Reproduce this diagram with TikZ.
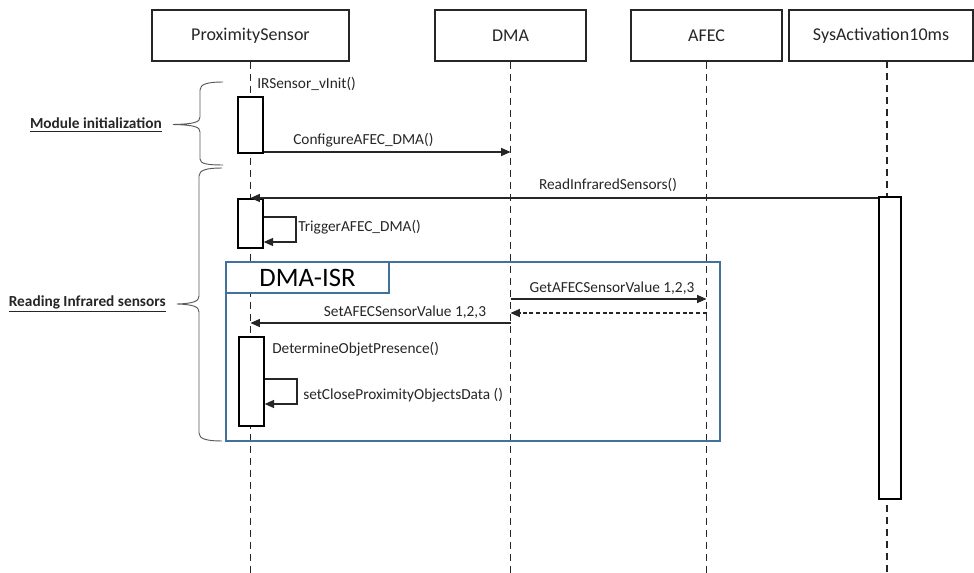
\documentclass[tikz,border=0pt]{standalone}
\usepackage{fontspec}
\setmainfont{Carlito}
\usetikzlibrary{arrows.meta}
\definecolor{frameblue}{RGB}{65,113,156}
\definecolor{ink}{RGB}{38,38,38}
\begin{document}
\begin{tikzpicture}[x=0.75pt,y=-0.75pt,
  hdr/.style={draw=ink, line width=0.9pt, fill=white, font=\fontsize{13.5}{16}\selectfont, text=ink, inner sep=0pt, minimum height=38.25pt},
  life/.style={draw=ink, line width=1pt, dash pattern=on 5.5pt off 3.5pt},
  act/.style={draw=black, line width=1pt, fill=white, inner sep=0pt},
  msg/.style={draw=ink, line width=0.85pt, -{Triangle[length=7pt,width=6pt]}},
  ret/.style={msg, dash pattern=on 3pt off 2pt},
  lbl/.style={font=\fontsize{11.5}{14}\selectfont, text=ink, inner sep=0pt},
  side/.style={font=\bfseries\fontsize{11.5}{14}\selectfont, text=ink, inner sep=0pt, anchor=east},
  bracestyle/.style={draw=gray!70!black, line width=0.7pt},
  frame/.style={draw=frameblue, line width=1pt, inner sep=0pt},
]
\useasboundingbox (0,0) rectangle (974,573);

% headers
\node[hdr, minimum width=147.75pt] (ps)  at (250.5,35.5) {ProximitySensor};
\node[hdr, minimum width=113.25pt] (dma) at (510.5,35.5) {DMA};
\node[hdr, minimum width=113.25pt] (afec) at (706.5,35.5) {AFEC};
\node[hdr, minimum width=138pt]    (sys) at (881,35.5) {SysActivation10ms};

% lifelines
\coordinate (syslife) at (887,61);
\draw[life] (ps.south) -- (ps.south |- 0,573);
\draw[life] (dma.south) -- (dma.south |- 0,573);
\draw[life] (afec.south) -- (afec.south |- 0,573);
\draw[life] (syslife) -- (syslife |- 0,573);

% DMA-ISR frame
\node[frame, minimum width=370.5pt, minimum height=134.25pt] (isr) at (473,351.5) {};
\node[frame, fill=white, minimum width=122.25pt, minimum height=23.25pt,
      font=\fontsize{20}{24}\selectfont, text=black] (isrt) at (307.5,277.5) {DMA-ISR};

% activations
\node[act, minimum width=18.75pt, minimum height=42pt]    (a1) at (250.5,125) {};
\node[act, minimum width=18.75pt, minimum height=36.75pt] (a2) at (250.5,223.5) {};
\node[act, minimum width=18.75pt, minimum height=66.75pt] (a3) at (251.5,381.5) {};
\node[act, minimum width=16.5pt, minimum height=226.5pt]  (a4) at (890,348) {};

% messages
\node[lbl, anchor=west] (m0) at (257,84) {IRSensor\_vInit()};

\draw[msg] (a1.east |- 0,152) -- (dma.south |- 0,152);
\node[lbl, anchor=west] (m1) at (293,140) {ConfigureAFEC\_DMA()};

\draw[msg] (a4.west |- 0,198) -- (ps.south |- 0,198);
\node[lbl] (m2) at (608,185) {ReadInfraredSensors()};

\coordinate (t1) at (296,217);
\coordinate (t2) at (296,242);
\draw[msg] (a2.east |- t1) -- (t1) -- (t2) -- (a2.east |- t2);
\node[lbl, anchor=west] (m3) at (298,227) {TriggerAFEC\_DMA()};

\draw[msg] (dma.south |- 0,299) -- (afec.south |- 0,299);
\node[lbl] (m4) at (612,288) {GetAFECSensorValue 1,2,3};

\draw[ret] (afec.south |- 0,313) -- (dma.south |- 0,313);

\draw[msg] (dma.south |- 0,323) -- (ps.south |- 0,323);
\node[lbl] (m5) at (405,312) {SetAFECSensorValue 1,2,3};

\node[lbl, anchor=west] (m6) at (272,349) {DetermineObjetPresence()};

\coordinate (s1) at (297,379);
\coordinate (s2) at (297,404);
\draw[msg] (a3.east |- s1) -- (s1) -- (s2) -- (a3.east |- s2);
\node[lbl, anchor=west] (m7) at (303,395) {setCloseProximityObjectsData ()};

% braces and side labels
\draw[bracestyle] (223,82) .. controls (208,82) and (200,84) .. (200,90) -- (200,117)
  .. controls (200,122) and (195,124) .. (173,124.5)
  .. controls (195,125) and (200,127) .. (200,132) -- (200,159)
  .. controls (200,164) and (208,165) .. (223,165);
\node[side] (modinit) at (162,125) {\underline{Module initialization}};

\draw[bracestyle] (222,168) .. controls (207,168) and (199,170) .. (199,176) -- (199,296)
  .. controls (199,301) and (194,303.5) .. (177,304)
  .. controls (194,304.5) and (199,307) .. (199,312) -- (199,433)
  .. controls (199,439) and (207,441) .. (222,441);
\node[side] (readir) at (166,304) {\underline{Reading Infrared sensors}};
\end{tikzpicture}
\end{document}
